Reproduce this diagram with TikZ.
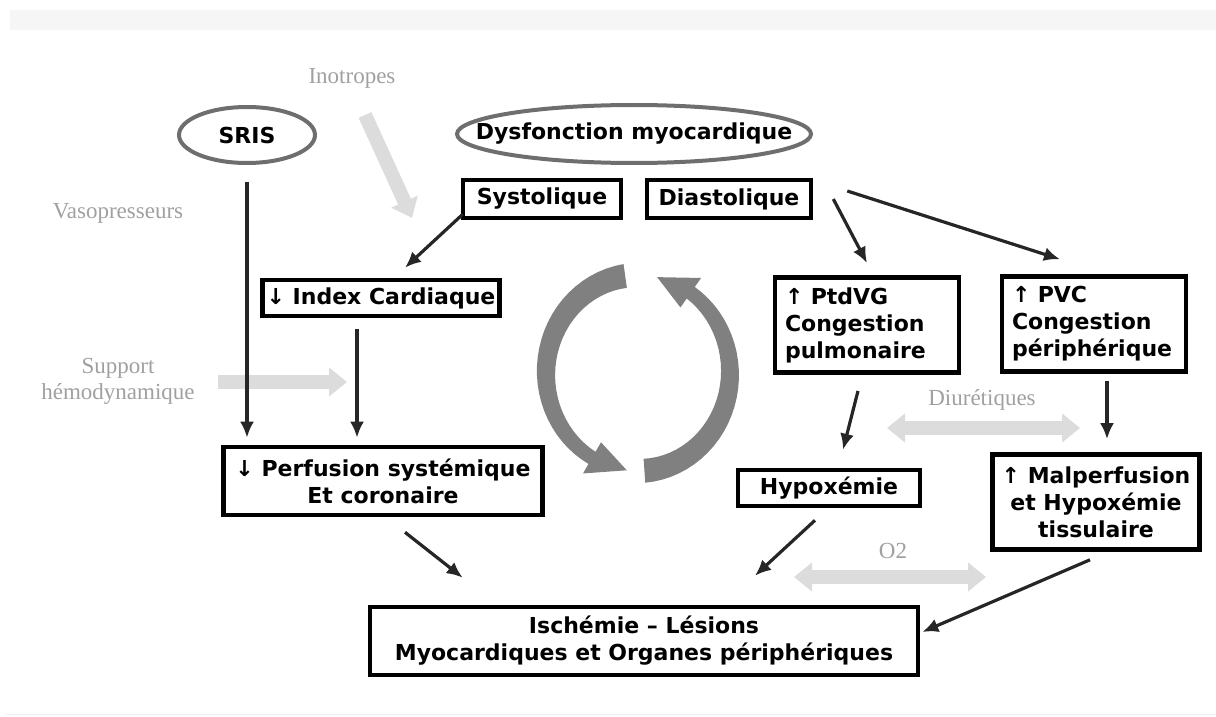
\documentclass[tikz,border=0pt]{standalone}
\usepackage{fontspec}
\setsansfont{DejaVu Sans}
\newfontfamily\notefont{Liberation Serif}
\usetikzlibrary{arrows.meta,shapes.geometric}
\definecolor{rim}{HTML}{6E6E6E}
\definecolor{loopgray}{HTML}{808080}
\definecolor{treat}{HTML}{DCDCDC}
\definecolor{notegray}{HTML}{A0A0A0}
\definecolor{band}{HTML}{F6F6F6}
\tikzset{box/.style={draw=black,line width=2.3pt,align=center,inner sep=2pt,font=\sffamily\bfseries\fontsize{11}{13.5}\selectfont},
leftbox/.style={box,align=left,inner sep=5pt},
oval/.style={ellipse,draw=rim,line width=2pt,inner sep=0pt},
ovaltext/.style={font=\sffamily\bfseries\fontsize{11}{13.5}\selectfont},
arrow/.style={-{Latex[length=8pt,width=7pt]},line width=1.6pt,draw=black!85},
therapy/.style={-{Triangle[length=9pt,width=14pt]},line width=7pt,draw=treat},
therapyboth/.style={{Triangle[length=9pt,width=14pt]}-{Triangle[length=9pt,width=14pt]},line width=7pt,draw=treat},
note/.style={text=notegray,font=\notefont\fontsize{11.5}{13}\selectfont,align=center}}

\begin{document}
\begin{tikzpicture}[x=0.5pt,y=-0.5pt]
\useasboundingbox (0,0) rectangle (1216,717);
\fill[band] (10,10) rectangle (1216,30);
\draw[gray!12] (5,714) -- (1216,714);

% ellipses
\node[oval,minimum width=68pt,minimum height=28pt,label={[ovaltext]center:SRIS}] (sris) at (247,135) {};
\node[oval,minimum width=177pt,minimum height=29pt,label={[ovaltext]center:Dysfonction myocardique}] (dys) at (634,134) {};

% boxes
\node[box,minimum width=79pt,minimum height=19pt] (sys) at (542,199) {Systolique};
\node[box,minimum width=82pt,minimum height=19pt] (dia) at (729,199) {Diastolique};
\node[box,minimum width=113pt,minimum height=18pt] (idx) at (381,298) {↓ Index Cardiaque};
\node[leftbox,text width=82pt,minimum height=47.5pt] (ptd) at (867,325) {↑ PtdVG\\Congestion\\pulmonaire};
\node[leftbox,text width=82pt,minimum height=47pt] (pvc) at (1094,324) {↑ PVC\\Congestion\\périphérique};
\node[box,minimum width=159.5pt,minimum height=34pt] (perf) at (383,481) {↓ Perfusion systémique\\Et coronaire};
\node[box,minimum width=91pt,minimum height=18pt] (hyp) at (829,488) {Hypoxémie};
\node[box,minimum width=103.5pt,minimum height=47.5pt] (mal) at (1096,502) {↑ Malperfusion\\et Hypoxémie\\tissulaire};
\node[box,minimum width=274pt,minimum height=34pt] (isch) at (644,641) {Ischémie – Lésions\\Myocardiques et Organes périphériques};

% treatments
\node[note] (ino) at (352,78) {Inotropes};
\node[note] (vaso) at (118,213) {Vasopresseurs};
\node[note] (supp) at (118,381) {Support\\hémodynamique};
\node[note] (diu) at (982,400) {Diurétiques};
\node[note] (oxy) at (893,551) {O2};
\coordinate (inoA) at (365,115);
\coordinate (inoB) at (412,218);
\coordinate (suppA) at (218,382);
\coordinate (suppB) at (347,382);
\coordinate (diuA) at (887,428);
\coordinate (diuB) at (1080,428);
\coordinate (oxyA) at (794,577);
\coordinate (oxyB) at (986,577);
\draw[therapy] (inoA) -- (inoB);
\draw[therapy] (suppA) -- (suppB);
\draw[therapyboth] (diuA) -- (diuB);
\draw[therapyboth] (oxyA) -- (oxyB);

% links
\draw[arrow,shorten <=8.5pt,shorten >=3.5pt] (sris.south) -- (sris.south |- perf.north);
\draw[arrow] ([xshift=1pt,yshift=3pt]sys.south west) -- ([xshift=12pt,yshift=5pt]idx.north);
\draw[arrow,shorten <=5.5pt,shorten >=3.5pt] ([xshift=-12pt]idx.south) -- ([xshift=-12pt]idx.south |- perf.north);
\draw[arrow] ([xshift=10pt]dia.east) -- ([yshift=6pt]ptd.north);
\draw[arrow] ([xshift=17pt,yshift=4pt]dia.east) -- ([xshift=-17pt,yshift=7.5pt]pvc.north);
\draw[arrow] ([xshift=-4.5pt,yshift=-8pt]ptd.south) -- ([xshift=7pt,yshift=9pt]hyp.north);
\draw[arrow,shorten <=3.5pt,shorten >=6.5pt] ([xshift=6.5pt]pvc.south) -- ([xshift=6.5pt]pvc.south |- mal.north);
\draw[arrow] ([xshift=11pt,yshift=-7.5pt]perf.south) -- ([xshift=47.5pt,yshift=13.5pt]isch.north west);
\draw[arrow] ([xshift=-7pt,yshift=-6pt]hyp.south) -- ([xshift=55.5pt,yshift=14.5pt]isch.north);
\draw[arrow] ([xshift=-3pt,yshift=-4pt]mal.south) -- ([xshift=1pt,yshift=4.5pt]isch.east);

% vicious circle
\fill[loopgray] plot[domain=262:120,samples=30] ({638+(104-5*(262-(\x))/142)*cos(\x)},{373+(110-5*(262-(\x))/142)*sin(\x)})
 -- ({638+110*cos(120)},{373+116*sin(120)}) -- ({638+92*cos(97)},{373+98*sin(97)}) -- ({638+74*cos(120)},{373+80*sin(120)})
 -- plot[domain=120:262,samples=30] ({638+(80+5*(262-(\x))/142)*cos(\x)},{373+(86+5*(262-(\x))/142)*sin(\x)}) -- cycle;
\fill[loopgray] plot[domain=86:-55,samples=30] ({638+(104-5*(86-(\x))/141)*cos(\x)},{373+(110-5*(86-(\x))/141)*sin(\x)})
 -- ({638+110*cos(-55)},{373+116*sin(-55)}) -- ({638+92*cos(-78)},{373+98*sin(-78)}) -- ({638+74*cos(-55)},{373+80*sin(-55)})
 -- plot[domain=-55:86,samples=30] ({638+(80+5*(86-(\x))/141)*cos(\x)},{373+(86+5*(86-(\x))/141)*sin(\x)}) -- cycle;
\end{tikzpicture}
\end{document}
